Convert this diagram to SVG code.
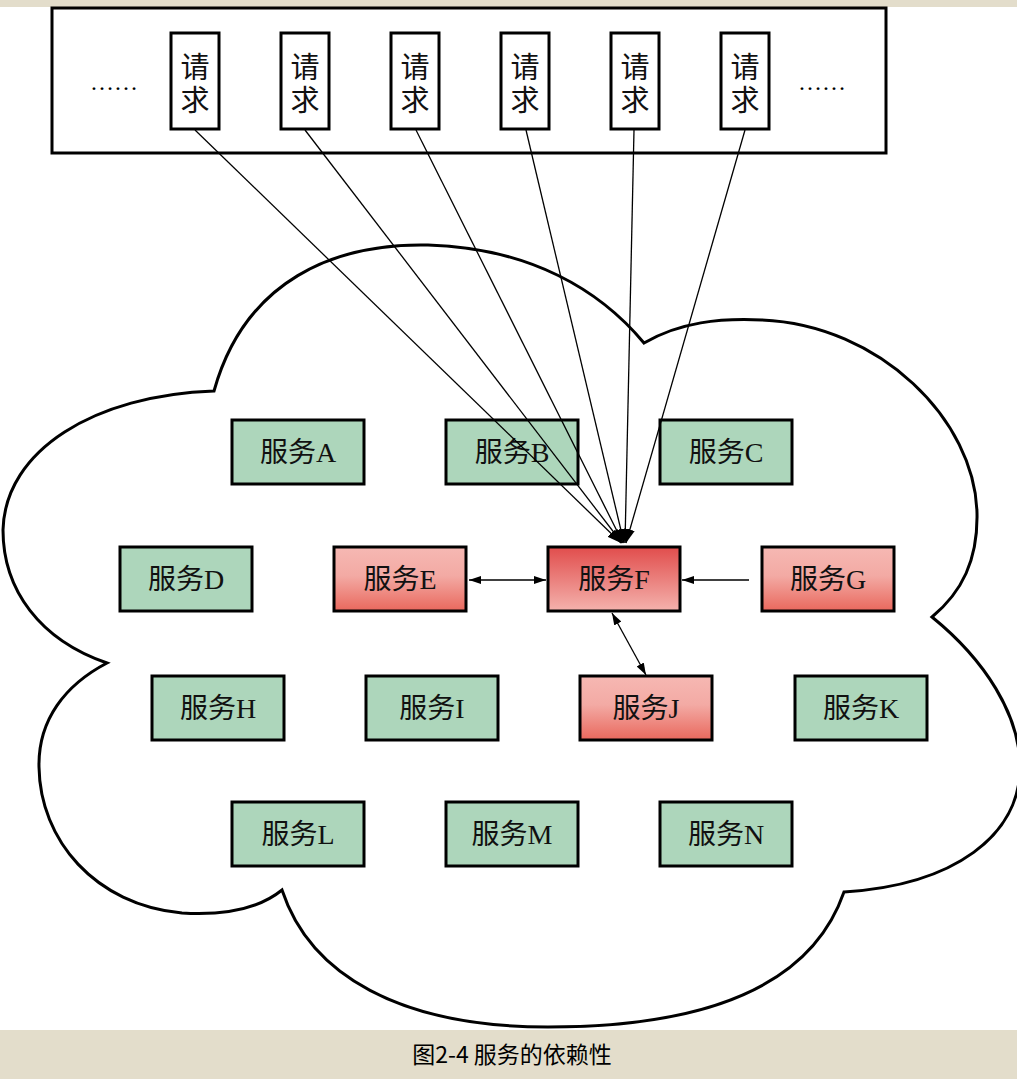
<svg xmlns="http://www.w3.org/2000/svg" width="1017" height="1079" viewBox="0 0 1017 1079">
<defs>
<style>
.svc rect{stroke:#000;stroke-width:3}
.g rect{fill:#add6bb}
.p rect{fill:url(#pk)}
.svc text{font-family:"Liberation Serif","Noto Sans CJK SC",serif;font-size:28px;fill:#111;text-anchor:middle}
.req rect{fill:#fff;stroke:#000;stroke-width:3}
.req text{font-family:"Liberation Serif","Noto Sans CJK SC",serif;font-size:29px;fill:#111;text-anchor:middle}
.conn line{stroke:#000;stroke-width:1.3}
</style>
<linearGradient id="pk" x1="0" y1="0" x2="0" y2="1">
<stop offset="0" stop-color="#f6b8b3"/><stop offset="0.45" stop-color="#f3aaa4"/><stop offset="1" stop-color="#e9685d"/>
</linearGradient>
<linearGradient id="fk" x1="0" y1="0" x2="0" y2="1">
<stop offset="0" stop-color="#e14d4c"/><stop offset="1" stop-color="#f4b2ad"/>
</linearGradient>
<marker id="ah" viewBox="0 0 12 8" refX="12" refY="4" markerWidth="12" markerHeight="8" orient="auto-start-reverse" markerUnits="userSpaceOnUse">
<path d="M0,0 L12,4 L0,8 z" fill="#000"/>
</marker>
<marker id="ahb" viewBox="0 0 14 10" refX="14" refY="5" markerWidth="14" markerHeight="10" orient="auto" markerUnits="userSpaceOnUse">
<path d="M0,0 L14,5 L0,10 z" fill="#000"/>
</marker>
</defs>
<rect x="0" y="0" width="1017" height="1079" fill="#fff"/>
<rect x="0" y="0" width="1017" height="7" fill="#e3ddcb"/>
<rect x="0" y="1030" width="1017" height="49" fill="#e3ddcb"/>
<text x="512" y="1063" font-family="'Noto Sans CJK SC','Noto Sans',sans-serif" font-size="23" text-anchor="middle" fill="#000">图2-4 服务的依赖性</text>

<g id="cloud">
<path d="M214,391 C245,280 335,243 428,245 C530,248 600,290 644,343 C680,322 720,318 762,320 C880,325 975,420 977,513 C978,560 962,592 932,617 C985,660 1020,715 1020,767 C1020,835 955,885 844,892 C810,990 700,1027 548,1027 C400,1027 310,975 282,890 C255,912 215,915 182,913 C95,905 40,840 39,767 C38,720 65,685 107,663 C40,640 3,590 3,530 C5,450 95,395 214,391 Z" fill="#fff" stroke="#000" stroke-width="3"/>
</g>

<g id="requests">
<rect x="52" y="8" width="834" height="145" fill="#fff" stroke="#000" stroke-width="3"/>
<text x="114" y="90" font-family="'Liberation Serif',serif" font-size="24" text-anchor="middle" fill="#000">……</text>
<text x="822" y="90" font-family="'Liberation Serif',serif" font-size="24" text-anchor="middle" fill="#000">……</text>
<g id="req1" class="req"><rect x="171" y="33" width="48" height="96"/><text x="195" y="78">请</text><text x="195" y="111">求</text></g>
<g id="req2" class="req"><rect x="281" y="33" width="48" height="96"/><text x="305" y="78">请</text><text x="305" y="111">求</text></g>
<g id="req3" class="req"><rect x="391" y="33" width="48" height="96"/><text x="415" y="78">请</text><text x="415" y="111">求</text></g>
<g id="req4" class="req"><rect x="501" y="33" width="48" height="96"/><text x="525" y="78">请</text><text x="525" y="111">求</text></g>
<g id="req5" class="req"><rect x="611" y="33" width="48" height="96"/><text x="635" y="78">请</text><text x="635" y="111">求</text></g>
<g id="req6" class="req"><rect x="721" y="33" width="48" height="96"/><text x="745" y="78">请</text><text x="745" y="111">求</text></g>
</g>

<g id="svcA" class="svc g"><rect x="232" y="420" width="132" height="64"/><text x="298" y="462">服务A</text></g>
<g id="svcB" class="svc g"><rect x="446" y="420" width="132" height="64"/><text x="512" y="462">服务B</text></g>
<g id="svcC" class="svc g"><rect x="660" y="420" width="132" height="64"/><text x="726" y="462">服务C</text></g>
<g id="svcD" class="svc g"><rect x="120" y="547" width="132" height="64"/><text x="186" y="589">服务D</text></g>
<g id="svcE" class="svc p"><rect x="334" y="547" width="132" height="64"/><text x="400" y="589">服务E</text></g>
<g id="svcF" class="svc"><rect x="548" y="547" width="132" height="64" fill="url(#fk)"/><text x="614" y="589">服务F</text></g>
<g id="svcG" class="svc p"><rect x="762" y="547" width="132" height="64"/><text x="828" y="589">服务G</text></g>
<g id="svcH" class="svc g"><rect x="152" y="676" width="132" height="64"/><text x="218" y="718">服务H</text></g>
<g id="svcI" class="svc g"><rect x="366" y="676" width="132" height="64"/><text x="432" y="718">服务I</text></g>
<g id="svcJ" class="svc p"><rect x="580" y="676" width="132" height="64"/><text x="646" y="718">服务J</text></g>
<g id="svcK" class="svc g"><rect x="795" y="676" width="132" height="64"/><text x="861" y="718">服务K</text></g>
<g id="svcL" class="svc g"><rect x="232" y="802" width="132" height="64"/><text x="298" y="844">服务L</text></g>
<g id="svcM" class="svc g"><rect x="446" y="802" width="132" height="64"/><text x="512" y="844">服务M</text></g>
<g id="svcN" class="svc g"><rect x="660" y="802" width="132" height="64"/><text x="726" y="844">服务N</text></g>

<g id="connectors" class="conn">
<line x1="195" y1="130" x2="621" y2="543" marker-end="url(#ahb)"/>
<line x1="305" y1="130" x2="622" y2="543" marker-end="url(#ahb)"/>
<line x1="416" y1="130" x2="623" y2="543" marker-end="url(#ahb)"/>
<line x1="526" y1="130" x2="624" y2="543" marker-end="url(#ahb)"/>
<line x1="634" y1="130" x2="625" y2="543" marker-end="url(#ahb)"/>
<line x1="745" y1="130" x2="626" y2="543" marker-end="url(#ahb)"/>
<line x1="469" y1="580" x2="546" y2="580" marker-start="url(#ah)" marker-end="url(#ah)"/>
<line x1="749" y1="580" x2="682" y2="580" marker-end="url(#ah)"/>
<line x1="612" y1="613" x2="646" y2="675" marker-start="url(#ah)" marker-end="url(#ah)"/>
</g>
</svg>
